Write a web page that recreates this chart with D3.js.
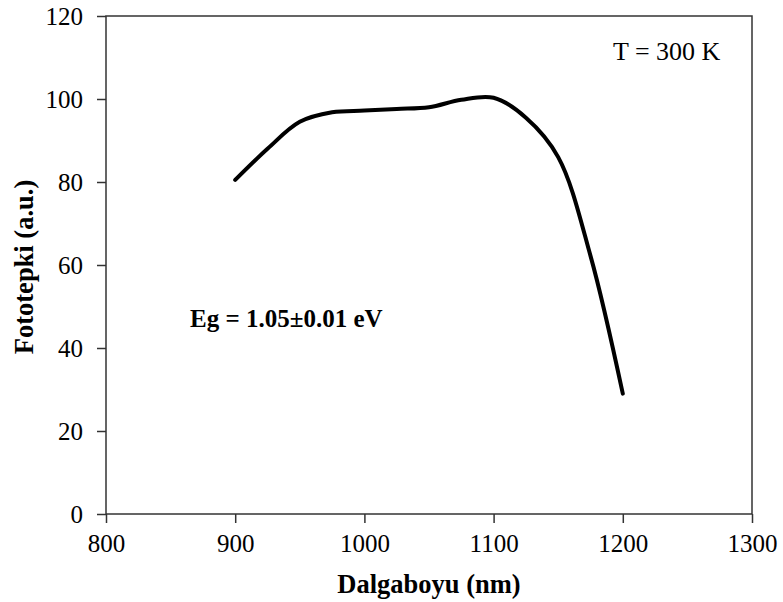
<!DOCTYPE html>
<html>
<head>
<meta charset="utf-8">
<script src="https://cdn.jsdelivr.net/npm/d3@7"></script>
<style>
  html, body { margin: 0; padding: 0; background: #fff; }
  svg { display: block; }
</style>
</head>
<body>
<svg id="chart" width="783" height="602"></svg>
<script>
'use strict';

// ── data ─────────────────────────────────────────────
const wavelength = [900, 925, 950, 975, 1000, 1025, 1050, 1075, 1100, 1125, 1150, 1175, 1200];
const photocurrent = [80.5, 88, 94.5, 96.8, 97.2, 97.6, 98.0, 99.8, 100.3, 95.5, 86, 62.2, 29];
const xTicks = [800, 900, 1000, 1100, 1200, 1300];
const yTicks = [0, 20, 40, 60, 80, 100, 120];

// ── layout ───────────────────────────────────────────
const W = 783, H = 602;
const m = { left: 106, right: 31, top: 16, bottom: 88 };
const FONT = '"Liberation Serif", "Times New Roman", serif';

const svg = d3.select('#chart');

const x = d3.scaleLinear().domain([800, 1300]).range([m.left, W - m.right]);
const y = d3.scaleLinear().domain([0, 120]).range([H - m.bottom, m.top]);

// frame
svg.append('rect')
  .attr('x', x(800)).attr('y', y(120))
  .attr('width', x(1300) - x(800)).attr('height', y(0) - y(120))
  .attr('fill', 'none').attr('stroke', '#333').attr('stroke-width', 1.5);

// axes
const xAxis = svg.append('g')
  .attr('transform', `translate(0,${y(0)})`)
  .call(d3.axisBottom(x).tickValues(xTicks).tickSize(9).tickPadding(11).tickFormat(d3.format('d')));
const yAxis = svg.append('g')
  .attr('transform', `translate(${x(800)},0)`)
  .call(d3.axisLeft(y).tickValues(yTicks).tickSize(9).tickPadding(14));

[xAxis, yAxis].forEach(a => {
  a.select('.domain').remove();
  a.selectAll('line').attr('stroke', '#333').attr('stroke-width', 1.5);
  a.selectAll('text')
    .attr('font-family', FONT)
    .attr('font-size', 25)
    .attr('fill', '#000');
});

// curve
const line = d3.line()
  .x((d, i) => x(wavelength[i]))
  .y(d => y(d))
  .curve(d3.curveCatmullRom.alpha(0.5));

svg.append('path')
  .datum(photocurrent)
  .attr('d', line)
  .attr('fill', 'none')
  .attr('stroke', '#000')
  .attr('stroke-width', 4)
  .attr('stroke-linecap', 'round')
  .attr('stroke-linejoin', 'round');

// axis titles
svg.append('text')
  .attr('x', (x(800) + x(1300)) / 2)
  .attr('y', 593)
  .attr('text-anchor', 'middle')
  .attr('font-family', FONT)
  .attr('font-weight', 700)
  .attr('font-size', 26.5)
  .text('Dalgaboyu (nm)');

svg.append('text')
  .attr('transform', `translate(33,${(y(0) + y(120)) / 2 + 2}) rotate(-90)`)
  .attr('text-anchor', 'middle')
  .attr('font-family', FONT)
  .attr('font-weight', 700)
  .attr('font-size', 26.5)
  .text('Fototepki (a.u.)');

// annotations
svg.append('text')
  .attr('x', 190).attr('y', 327)
  .attr('font-family', FONT)
  .attr('font-weight', 700)
  .attr('font-size', 25)
  .text('Eg = 1.05\u00b10.01 eV');

svg.append('text')
  .attr('x', 613).attr('y', 60)
  .attr('font-family', FONT)
  .attr('font-size', 26)
  .text('T = 300 K');
</script>
</body>
</html>
